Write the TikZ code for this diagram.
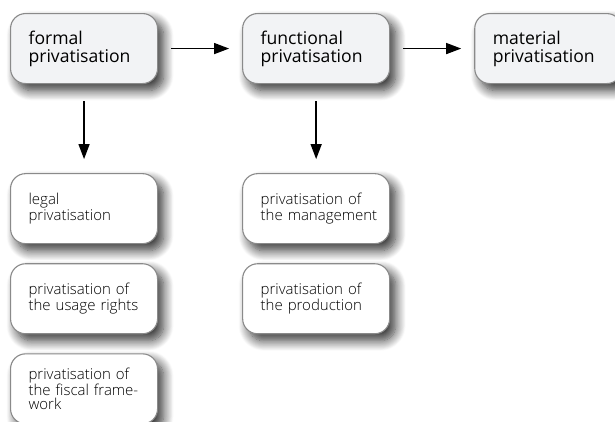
\documentclass[tikz,border=0pt]{standalone}
\usepackage{fontspec}
\setmainfont{Open Sans}
\newfontfamily\lightfont{Open Sans Light}
\usetikzlibrary{arrows.meta,positioning,shadows.blur}
\definecolor{boxline}{HTML}{8A8A8A}
\definecolor{boxfill}{HTML}{F2F3F5}

\begin{document}
\begin{tikzpicture}[x=1pt,y=1pt,node distance=84pt,
    box/.style={draw=boxline,line width=1.1pt,rounded corners=15pt,
    minimum width=147pt,minimum height=70pt,text width=111pt,inner xsep=18pt,
    align=left,blur shadow={shadow xshift=6pt,shadow yshift=-7pt,
    shadow blur radius=10pt,shadow blur steps=12,shadow opacity=80}},
    top/.style={box,fill=boxfill,font={\fontsize{17.6}{18}\selectfont}},
    sub/.style={box,fill=white,font={\hyphenpenalty=10000\exhyphenpenalty=10000%
    \lightfont\fontsize{15}{14.2}\selectfont}},
    a/.style={-{Triangle[length=15pt,width=11pt]},line width=1.4pt,black}]
    \useasboundingbox (0,0) rectangle (615,-421);
    \node[top,anchor=north west] (form) at (10,-13) {formal\\privatisation};
    \node[top,right=of form] (func) {functional\\privatisation};
    \node[top,right=of func] (mat) {material\\privatisation};
    % sub-forms
    \node[sub,below=89pt of form] (legal) {legal\\privatisation};
    \node[sub,below=19pt of legal] (usage) {privatisation~of\\the~usage~rights};
    \node[sub,below=19pt of usage] (fisc) {privatisation~of\\the~fiscal~frame-\\work};
    \node[sub,below=89pt of func] (mgmt) {privatisation~of\\the~management};
    \node[sub,below=19pt of mgmt] (prod) {privatisation~of\\the~production};
    \draw[a,shorten <=13pt,shorten >=13pt] (form)--(func);
    \draw[a,shorten <=13pt,shorten >=13pt] (func)--(mat);
    \draw[a,shorten <=17pt,shorten >=14pt] (form)--(legal);
    \draw[a,shorten <=17pt,shorten >=14pt] (func)--(mgmt);
\end{tikzpicture}
\end{document}
